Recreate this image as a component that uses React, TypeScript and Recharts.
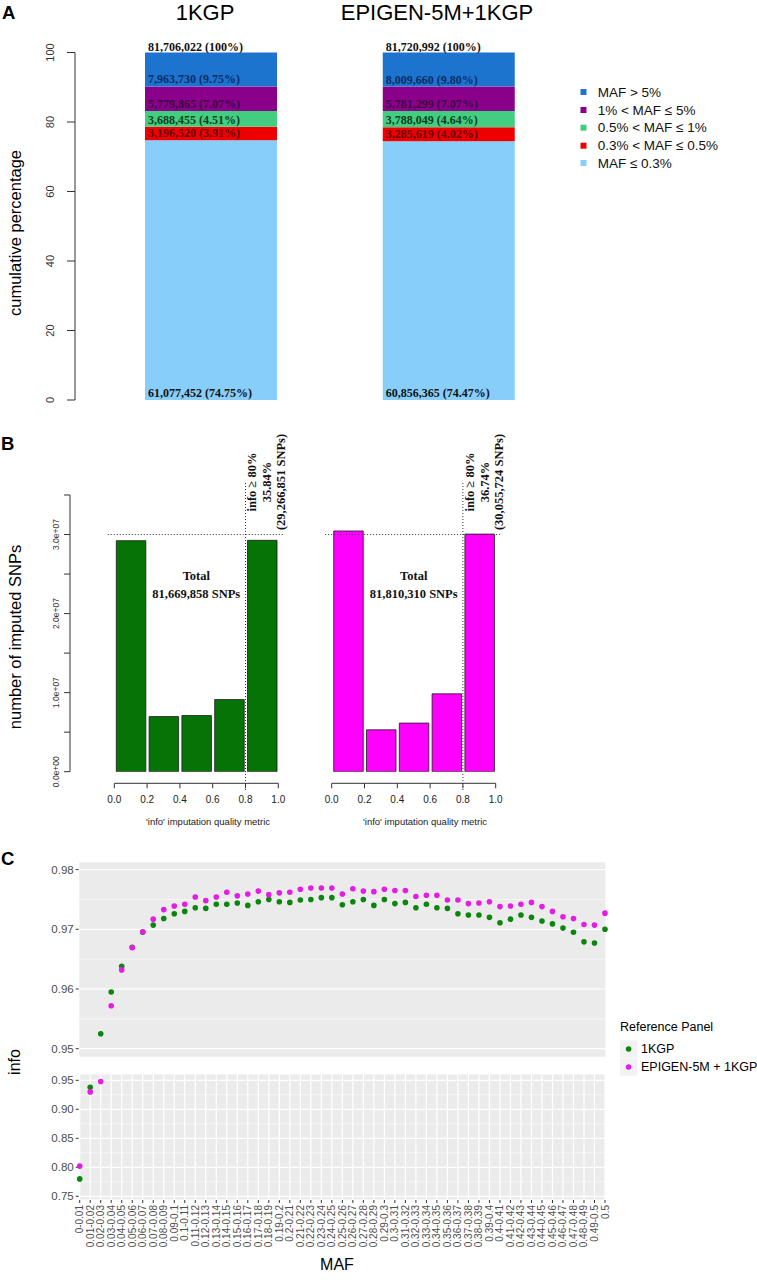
import {
  Bar,
  BarChart,
  CartesianGrid,
  ComposedChart,
  LabelList,
  Line,
  ReferenceLine,
  XAxis,
  YAxis,
} from "recharts";

const SANS = "'Liberation Sans', Arial, sans-serif";
const SERIF = "'Liberation Serif', 'Times New Roman', serif";

// ---- panel A: cumulative MAF classes
const A_PANELS = ["1KGP", "EPIGEN-5M+1KGP"];
const A_CLASSES = [
  "MAF ≤ 0.3%",
  "0.3% < MAF ≤ 0.5%",
  "0.5% < MAF ≤ 1%",
  "1% < MAF ≤ 5%",
  "MAF > 5%",
];
const A_COLORS = ["#87CEFA", "#EE0000", "#43CD80", "#8B008B", "#1C74CF"];
const A_TEXT_COLORS = ["#111111", "#6a0000", "#0c3f1e", "#3e0740", "#0d2c66"];
const A_COUNTS_1KGP = [61077452, 3196520, 3688455, 5779865, 7963730];
const A_PCT_1KGP = [74.75, 3.91, 4.51, 7.07, 9.75];
const A_COUNTS_EPIGEN = [60856365, 3285619, 3788049, 5781299, 8009660];
const A_PCT_EPIGEN = [74.47, 4.02, 4.64, 7.07, 9.8];
const A_TOTALS = [81706022, 81720992];
const A_TICKS = [0, 20, 40, 60, 80, 100];

// ---- panel B: info histograms
const B_BIN_MIDS = [0.1, 0.3, 0.5, 0.7, 0.9];
const B_BIN_WIDTH = 0.2;
const B_COUNTS_1KGP = [29220000, 6970000, 7100000, 9120000, 29266851];
const B_COUNTS_EPIGEN = [30450000, 5300000, 6150000, 9850000, 30055724];
const B_TOTALS = [81669858, 81810310];
const B_X_TICKS = [0, 0.2, 0.4, 0.6, 0.8, 1];
const B_Y_TICKS = [0, 5e6, 1e7, 1.5e7, 2e7, 2.5e7, 3e7, 3.5e7];
const B_Y_MAX = 3.5e7;
const B_THRESHOLD = 0.8;
const B_GUIDE = 3e7;

// ---- panel C: mean info by MAF bin
const C_MAF = [
  "0-0.01", "0.01-0.02", "0.02-0.03", "0.03-0.04", "0.04-0.05", "0.05-0.06",
  "0.06-0.07", "0.07-0.08", "0.08-0.09", "0.09-0.1", "0.1-0.11", "0.11-0.12",
  "0.12-0.13", "0.13-0.14", "0.14-0.15", "0.15-0.16", "0.16-0.17", "0.17-0.18",
  "0.18-0.19", "0.19-0.2", "0.2-0.21", "0.21-0.22", "0.22-0.23", "0.23-0.24",
  "0.24-0.25", "0.25-0.26", "0.26-0.27", "0.27-0.28", "0.28-0.29", "0.29-0.3",
  "0.3-0.31", "0.31-0.32", "0.32-0.33", "0.33-0.34", "0.34-0.35", "0.35-0.36",
  "0.36-0.37", "0.37-0.38", "0.38-0.39", "0.39-0.4", "0.4-0.41", "0.41-0.42",
  "0.42-0.43", "0.43-0.44", "0.44-0.45", "0.45-0.46", "0.46-0.47", "0.47-0.48",
  "0.48-0.49", "0.49-0.5", "0.5",
];
const C_INFO_1KGP = [
  0.78, 0.938, 0.9525, 0.9595, 0.9638, 0.967, 0.9695, 0.9707, 0.9718, 0.9726,
  0.973, 0.9736, 0.9735, 0.9742, 0.9742, 0.9744, 0.974, 0.9746, 0.975, 0.9746,
  0.9745, 0.9749, 0.975, 0.9753, 0.9753, 0.9741, 0.9746, 0.975, 0.974, 0.975,
  0.9743, 0.9745, 0.9736, 0.9742, 0.9736, 0.9735, 0.9726, 0.9724, 0.9724, 0.972,
  0.9711, 0.9717, 0.9724, 0.972, 0.9714, 0.9709, 0.9702, 0.9695, 0.9679, 0.9677,
  0.97,
];
const C_INFO_EPIGEN = [
  0.802, 0.93, 0.948, 0.9572, 0.9632, 0.9669, 0.9696, 0.9717, 0.9733, 0.9739,
  0.9742, 0.9754, 0.9748, 0.9754, 0.9762, 0.9756, 0.9759, 0.9764, 0.9758, 0.9761,
  0.9762, 0.9767, 0.9769, 0.9769, 0.9769, 0.9759, 0.9768, 0.9764, 0.9763, 0.9767,
  0.9765, 0.9765, 0.9755, 0.9757, 0.9757, 0.9749, 0.9749, 0.9743, 0.9744, 0.9746,
  0.9738, 0.9739, 0.9742, 0.9745, 0.9738, 0.973, 0.9721, 0.9718, 0.9708, 0.9707,
  0.9727,
];
const C_SPLIT = 0.95;
const C_TOP_TICKS = [0.95, 0.96, 0.97, 0.98];
const C_TOP_MINOR = [0.955, 0.965, 0.975];
const C_BOTTOM_TICKS = [0.75, 0.8, 0.85, 0.9, 0.95];
const C_BOTTOM_MINOR = [0.775, 0.825, 0.875, 0.925];
const C_GREEN = "#0B850B";
const C_MAGENTA = "#E41DE4";

const A_ROWS = A_PANELS.map((name, i) => {
  const counts = i === 0 ? A_COUNTS_1KGP : A_COUNTS_EPIGEN;
  const pct = i === 0 ? A_PCT_1KGP : A_PCT_EPIGEN;
  const row: Record<string, any> = { name, total: A_TOTALS[i] };
  counts.forEach((c, k) => {
    row[`c${k}`] = c;
    row[`p${k}`] = pct[k];
  });
  return row;
});

const histRows = (counts: number[]) =>
  B_BIN_MIDS.map((mid, i) => ({ mid, n: counts[i] }));

const C_TOP_ROWS = C_MAF.map((maf, i) => ({
  maf,
  g: C_INFO_1KGP[i] >= C_SPLIT ? C_INFO_1KGP[i] : null,
  m: C_INFO_EPIGEN[i] >= C_SPLIT ? C_INFO_EPIGEN[i] : null,
}));
const C_BOTTOM_ROWS = C_MAF.map((maf, i) => ({
  maf,
  g: C_INFO_1KGP[i] < C_SPLIT ? C_INFO_1KGP[i] : null,
  m: C_INFO_EPIGEN[i] < C_SPLIT ? C_INFO_EPIGEN[i] : null,
}));

const fmt = (n: number) => n.toLocaleString("en-US");

// histogram geometry (pixels per unit of 'info')
const B_PX = 164;
const B_PLOT_H = 276.7;
const B_AXIS_GAP = 11.6; // R draws the x axis a bit below the bars
const B_AXIS_Y = 75 + B_PLOT_H + B_AXIS_GAP;
const pxToCount = (px: number) => (px * B_Y_MAX) / B_PLOT_H;

const PctTick = (p: any) => (
  <text
    transform={`translate(${p.x - 11},${p.y}) rotate(-90)`}
    textAnchor="middle"
    fontSize={11}
    fontFamily={SANS}
    fill="#333"
  >
    {p.payload.value}
  </text>
);

const HistYTick = (p: any) => {
  const v = p.payload.value as number;
  if (v % 1e7 !== 0) return <g />;
  const [m, e] = v.toExponential(1).split("e+");
  return (
    <text
      transform={`translate(${p.x - 3},${p.y}) rotate(-90)`}
      textAnchor="middle"
      fontSize={8.5}
      fontFamily={SANS}
      fill="#333"
    >
      {`${m}e+${e.padStart(2, "0")}`}
    </text>
  );
};

const HistXTick = (p: any) => (
  <g>
    <line x1={p.x} x2={p.x} y1={B_AXIS_Y} y2={B_AXIS_Y + 5} stroke="#333" />
    <text
      x={p.x}
      y={B_AXIS_Y + 20}
      textAnchor="middle"
      fontSize={10}
      fontFamily={SANS}
      fill="#222"
    >
      {(p.payload.value as number).toFixed(1)}
    </text>
  </g>
);

const MafTick = (p: any) => (
  <text
    transform={`translate(${p.x},${p.y}) rotate(-90)`}
    textAnchor="end"
    dy="0.35em"
    fontSize={10}
    fontFamily={SANS}
    fill="#4D4D4D"
  >
    {p.payload.value}
  </text>
);

const segLabel = (k: number) => (props: any) => {
  const vb = props.viewBox ?? props;
  const row = A_ROWS[props.index];
  return (
    <text
      x={vb.x + 3}
      y={vb.y + vb.height - 3}
      fontSize={12}
      fontWeight="bold"
      fontFamily={SERIF}
      fill={A_TEXT_COLORS[k]}
    >
      {`${fmt(row[`c${k}`])} (${row[`p${k}`].toFixed(2)}%)`}
    </text>
  );
};

const topLabel = (props: any) => {
  const vb = props.viewBox ?? props;
  const row = A_ROWS[props.index];
  return (
    <text
      x={vb.x + 3}
      y={vb.y - 2}
      fontSize={12}
      fontWeight="bold"
      fontFamily={SERIF}
      fill="#111"
    >
      {`${fmt(row.total)} (100%)`}
    </text>
  );
};

type HistProps = {
  counts: number[];
  color: string;
  left: number;
  width: number;
  marginLeft: number;
  marginRight: number;
  yAxis: boolean;
  xMin: number;
};

const Histogram = ({ counts, color, left, width, marginLeft, marginRight, yAxis, xMin }: HistProps) => (
  <div style={{ position: "absolute", left, top: 420 }}>
    <BarChart
      width={width}
      height={400}
      data={histRows(counts)}
      margin={{ top: 75, right: marginRight, bottom: 0, left: marginLeft }}
      barCategoryGap={0}
    >
      <XAxis
        dataKey="mid"
        type="number"
        domain={[xMin, 1.04]}
        allowDataOverflow
        ticks={B_X_TICKS}
        interval={0}
        axisLine={false}
        tickLine={false}
        height={400 - 75 - B_PLOT_H}
        tick={(p: any) => <HistXTick {...p} />}
      />
      <YAxis
        hide={!yAxis}
        width={yAxis ? 70 : 0}
        domain={[0, B_Y_MAX]}
        allowDataOverflow
        ticks={B_Y_TICKS}
        interval={0}
        tickSize={6}
        axisLine={{ stroke: "#333" }}
        tickLine={{ stroke: "#333" }}
        tick={(p: any) => <HistYTick {...p} />}
      />
      <Bar
        dataKey="n"
        fill={color}
        stroke="#1a1a1a"
        strokeWidth={0.8}
        barSize={B_BIN_WIDTH * B_PX}
        isAnimationActive={false}
      />
      <ReferenceLine
        segment={[
          { x: -0.04, y: B_GUIDE },
          { x: 1.04, y: B_GUIDE },
        ]}
        ifOverflow="visible"
        stroke="#333"
        strokeDasharray="1 2"
      />
      <ReferenceLine
        segment={[
          { x: B_THRESHOLD, y: pxToCount(B_PLOT_H + 12) },
          { x: B_THRESHOLD, y: -pxToCount(18.5) },
        ]}
        ifOverflow="visible"
        stroke="#333"
        strokeDasharray="1 2"
      />
      <ReferenceLine
        segment={[
          { x: 0, y: -pxToCount(B_AXIS_GAP) },
          { x: 1, y: -pxToCount(B_AXIS_GAP) },
        ]}
        ifOverflow="visible"
        stroke="#333"
      />
    </BarChart>
  </div>
);

type FacetProps = {
  rows: any[];
  top: number;
  height: number;
  marginTop: number;
  domain: [number, number];
  ticks: number[];
  minor: number[];
  showX: boolean;
};

const Facet = ({ rows, top, height, marginTop, domain, ticks, minor, showX }: FacetProps) => (
  <div style={{ position: "absolute", left: 0, top }}>
    <ComposedChart
      width={757}
      height={height}
      data={rows}
      margin={{ top: marginTop, right: 151, bottom: showX ? 0 : 7.7, left: 0 }}
    >
      <CartesianGrid
        fill="#EBEBEB"
        stroke="#FFFFFF"
        strokeWidth={0.6}
        horizontalValues={minor}
        vertical={false}
      />
      <CartesianGrid stroke="#FFFFFF" strokeWidth={1.2} />
      <XAxis
        dataKey="maf"
        type="category"
        interval={0}
        padding={{ left: 1, right: 1 }}
        height={showX ? 80 : 0}
        axisLine={false}
        tickLine={showX ? { stroke: "#333" } : false}
        tickSize={3}
        tick={showX ? (p: any) => <MafTick {...p} /> : false}
      />
      <YAxis
        width={78.7}
        domain={domain}
        allowDataOverflow
        ticks={ticks}
        interval={0}
        axisLine={false}
        tickLine={{ stroke: "#333" }}
        tickSize={3}
        tickMargin={2}
        tickFormatter={(v: number) => v.toFixed(2)}
        tick={{ fontSize: 11.5, fill: "#4D4D4D", fontFamily: SANS }}
      />
      <Line
        dataKey="g"
        stroke="none"
        legendType="none"
        dot={{ r: 2.8, fill: C_GREEN, stroke: "none" }}
        activeDot={false}
        isAnimationActive={false}
      />
      <Line
        dataKey="m"
        stroke="none"
        legendType="none"
        dot={{ r: 2.8, fill: C_MAGENTA, stroke: "none" }}
        activeDot={false}
        isAnimationActive={false}
      />
    </ComposedChart>
  </div>
);

const A_LEGEND_Y = [92, 110, 127.7, 145.7, 163];

export default function App() {
  const highInfo = [0, 1].map((i) => {
    const counts = i === 0 ? B_COUNTS_1KGP : B_COUNTS_EPIGEN;
    const n = counts[counts.length - 1];
    return { pct: `${((n / B_TOTALS[i]) * 100).toFixed(2)}%`, n };
  });

  return (
    <div
      style={{
        position: "absolute",
        left: 0,
        top: 0,
        width: 757,
        height: 1280,
        background: "#fff",
        fontFamily: SANS,
      }}
    >
      {/* A */}
      <div style={{ position: "absolute", left: 0, top: 0 }}>
        <BarChart
          width={757}
          height={420}
          data={A_ROWS}
          margin={{ top: 52.5, right: 177, bottom: 20, left: 0 }}
        >
          <XAxis dataKey="name" hide padding={{ left: 17, right: 12.5 }} />
          <YAxis
            width={75}
            domain={[0, 100]}
            ticks={A_TICKS}
            interval={0}
            tickSize={8}
            axisLine={{ stroke: "#333" }}
            tickLine={{ stroke: "#333" }}
            tick={(p: any) => <PctTick {...p} />}
          />
          {A_CLASSES.map((cls, k) => (
            <Bar
              key={cls}
              dataKey={`p${k}`}
              name={cls}
              stackId="a"
              fill={A_COLORS[k]}
              barSize={132}
              isAnimationActive={false}
            >
              <LabelList content={segLabel(k)} />
              {k === A_CLASSES.length - 1 && <LabelList content={topLabel} />}
            </Bar>
          ))}
        </BarChart>
      </div>

      {/* B */}
      <Histogram
        counts={B_COUNTS_1KGP}
        color="#067306"
        left={0}
        width={300}
        marginLeft={0}
        marginRight={300 - (114.3 + 1.04 * B_PX)}
        yAxis
        xMin={-(114.3 - 70) / B_PX}
      />
      <Histogram
        counts={B_COUNTS_EPIGEN}
        color="#FF00FF"
        left={300}
        width={230}
        marginLeft={331.7 - 0.04 * B_PX - 300}
        marginRight={530 - (331.7 + 1.04 * B_PX)}
        yAxis={false}
        xMin={-0.04}
      />

      {/* C */}
      <Facet
        rows={C_TOP_ROWS}
        top={850}
        height={215}
        marginTop={11.7}
        domain={[0.94856, 0.98132]}
        ticks={C_TOP_TICKS}
        minor={C_TOP_MINOR}
        showX={false}
      />
      <Facet
        rows={C_BOTTOM_ROWS}
        top={1060}
        height={220}
        marginTop={14}
        domain={[0.7436, 0.9609]}
        ticks={C_BOTTOM_TICKS}
        minor={C_BOTTOM_MINOR}
        showX
      />

      {/* text layer */}
      <svg
        width={757}
        height={1280}
        style={{ position: "absolute", left: 0, top: 0, pointerEvents: "none" }}
        fontFamily={SANS}
      >
        <text x={2} y={18.5} fontSize={18.5} fontWeight="bold">A</text>
        <text x={1} y={450} fontSize={18.5} fontWeight="bold">B</text>
        <text x={1} y={865} fontSize={18.5} fontWeight="bold">C</text>

        <text x={205} y={20} fontSize={22} textAnchor="middle">{A_PANELS[0]}</text>
        <text x={437} y={20} fontSize={22} textAnchor="middle">{A_PANELS[1]}</text>
        <text transform="translate(15,233) rotate(-90)" textAnchor="middle" dy="0.35em" fontSize={16.5}>
          cumulative percentage
        </text>
        {A_CLASSES.slice()
          .reverse()
          .map((cls, i) => (
            <g key={cls}>
              <rect
                x={580.5}
                y={A_LEGEND_Y[i] - 3}
                width={6}
                height={6}
                fill={A_COLORS[A_CLASSES.length - 1 - i]}
              />
              <text x={597.7} y={A_LEGEND_Y[i]} dy="0.35em" fontSize={13.5} fill="#111">
                {cls}
              </text>
            </g>
          ))}

        <text transform="translate(15,637) rotate(-90)" textAnchor="middle" dy="0.35em" fontSize={16.5}>
          number of imputed SNPs
        </text>
        {[196.3, 413.7].map((cx, i) => (
          <g key={cx} fontFamily={SERIF} fontWeight="bold" fontSize={12.5} fill="#111" textAnchor="middle">
            <text x={cx} y={580}>Total</text>
            <text x={cx} y={598}>{`${fmt(B_TOTALS[i])} SNPs`}</text>
          </g>
        ))}
        {[252, 470].map((cx, i) => (
          <g key={`h${cx}`} fontFamily={SERIF} fontWeight="bold" fontSize={12.5} fill="#111">
            <text transform={`translate(${cx},482) rotate(-90)`} textAnchor="middle" dy="0.35em">
              info ≥ 80%
            </text>
            <text transform={`translate(${cx + 14.5},482) rotate(-90)`} textAnchor="middle" dy="0.35em">
              {highInfo[i].pct}
            </text>
            <text transform={`translate(${cx + 29},482) rotate(-90)`} textAnchor="middle" dy="0.35em">
              {`(${fmt(highInfo[i].n)} SNPs)`}
            </text>
          </g>
        ))}
        {[208, 425].map((cx) => (
          <text key={`x${cx}`} x={cx} y={825} textAnchor="middle" fontSize={9.5} fill="#222">
            'info' imputation quality metric
          </text>
        ))}

        <text transform="translate(14,1062) rotate(-90)" textAnchor="middle" dy="0.35em" fontSize={16}>
          info
        </text>
        <text x={337} y={1270} textAnchor="middle" fontSize={16}>MAF</text>
        <text x={620} y={1027} dy="0.35em" fontSize={12.5}>Reference Panel</text>
        {[
          { label: "1KGP", color: C_GREEN, y: 1049 },
          { label: "EPIGEN-5M + 1KGP", color: C_MAGENTA, y: 1067 },
        ].map((it) => (
          <g key={it.label}>
            <rect x={620} y={it.y - 8.6} width={17.3} height={17.3} fill="#F2F2F2" />
            <circle cx={628.6} cy={it.y} r={2.8} fill={it.color} />
            <text x={641} y={it.y} dy="0.35em" fontSize={12.5}>{it.label}</text>
          </g>
        ))}
      </svg>
    </div>
  );
}
